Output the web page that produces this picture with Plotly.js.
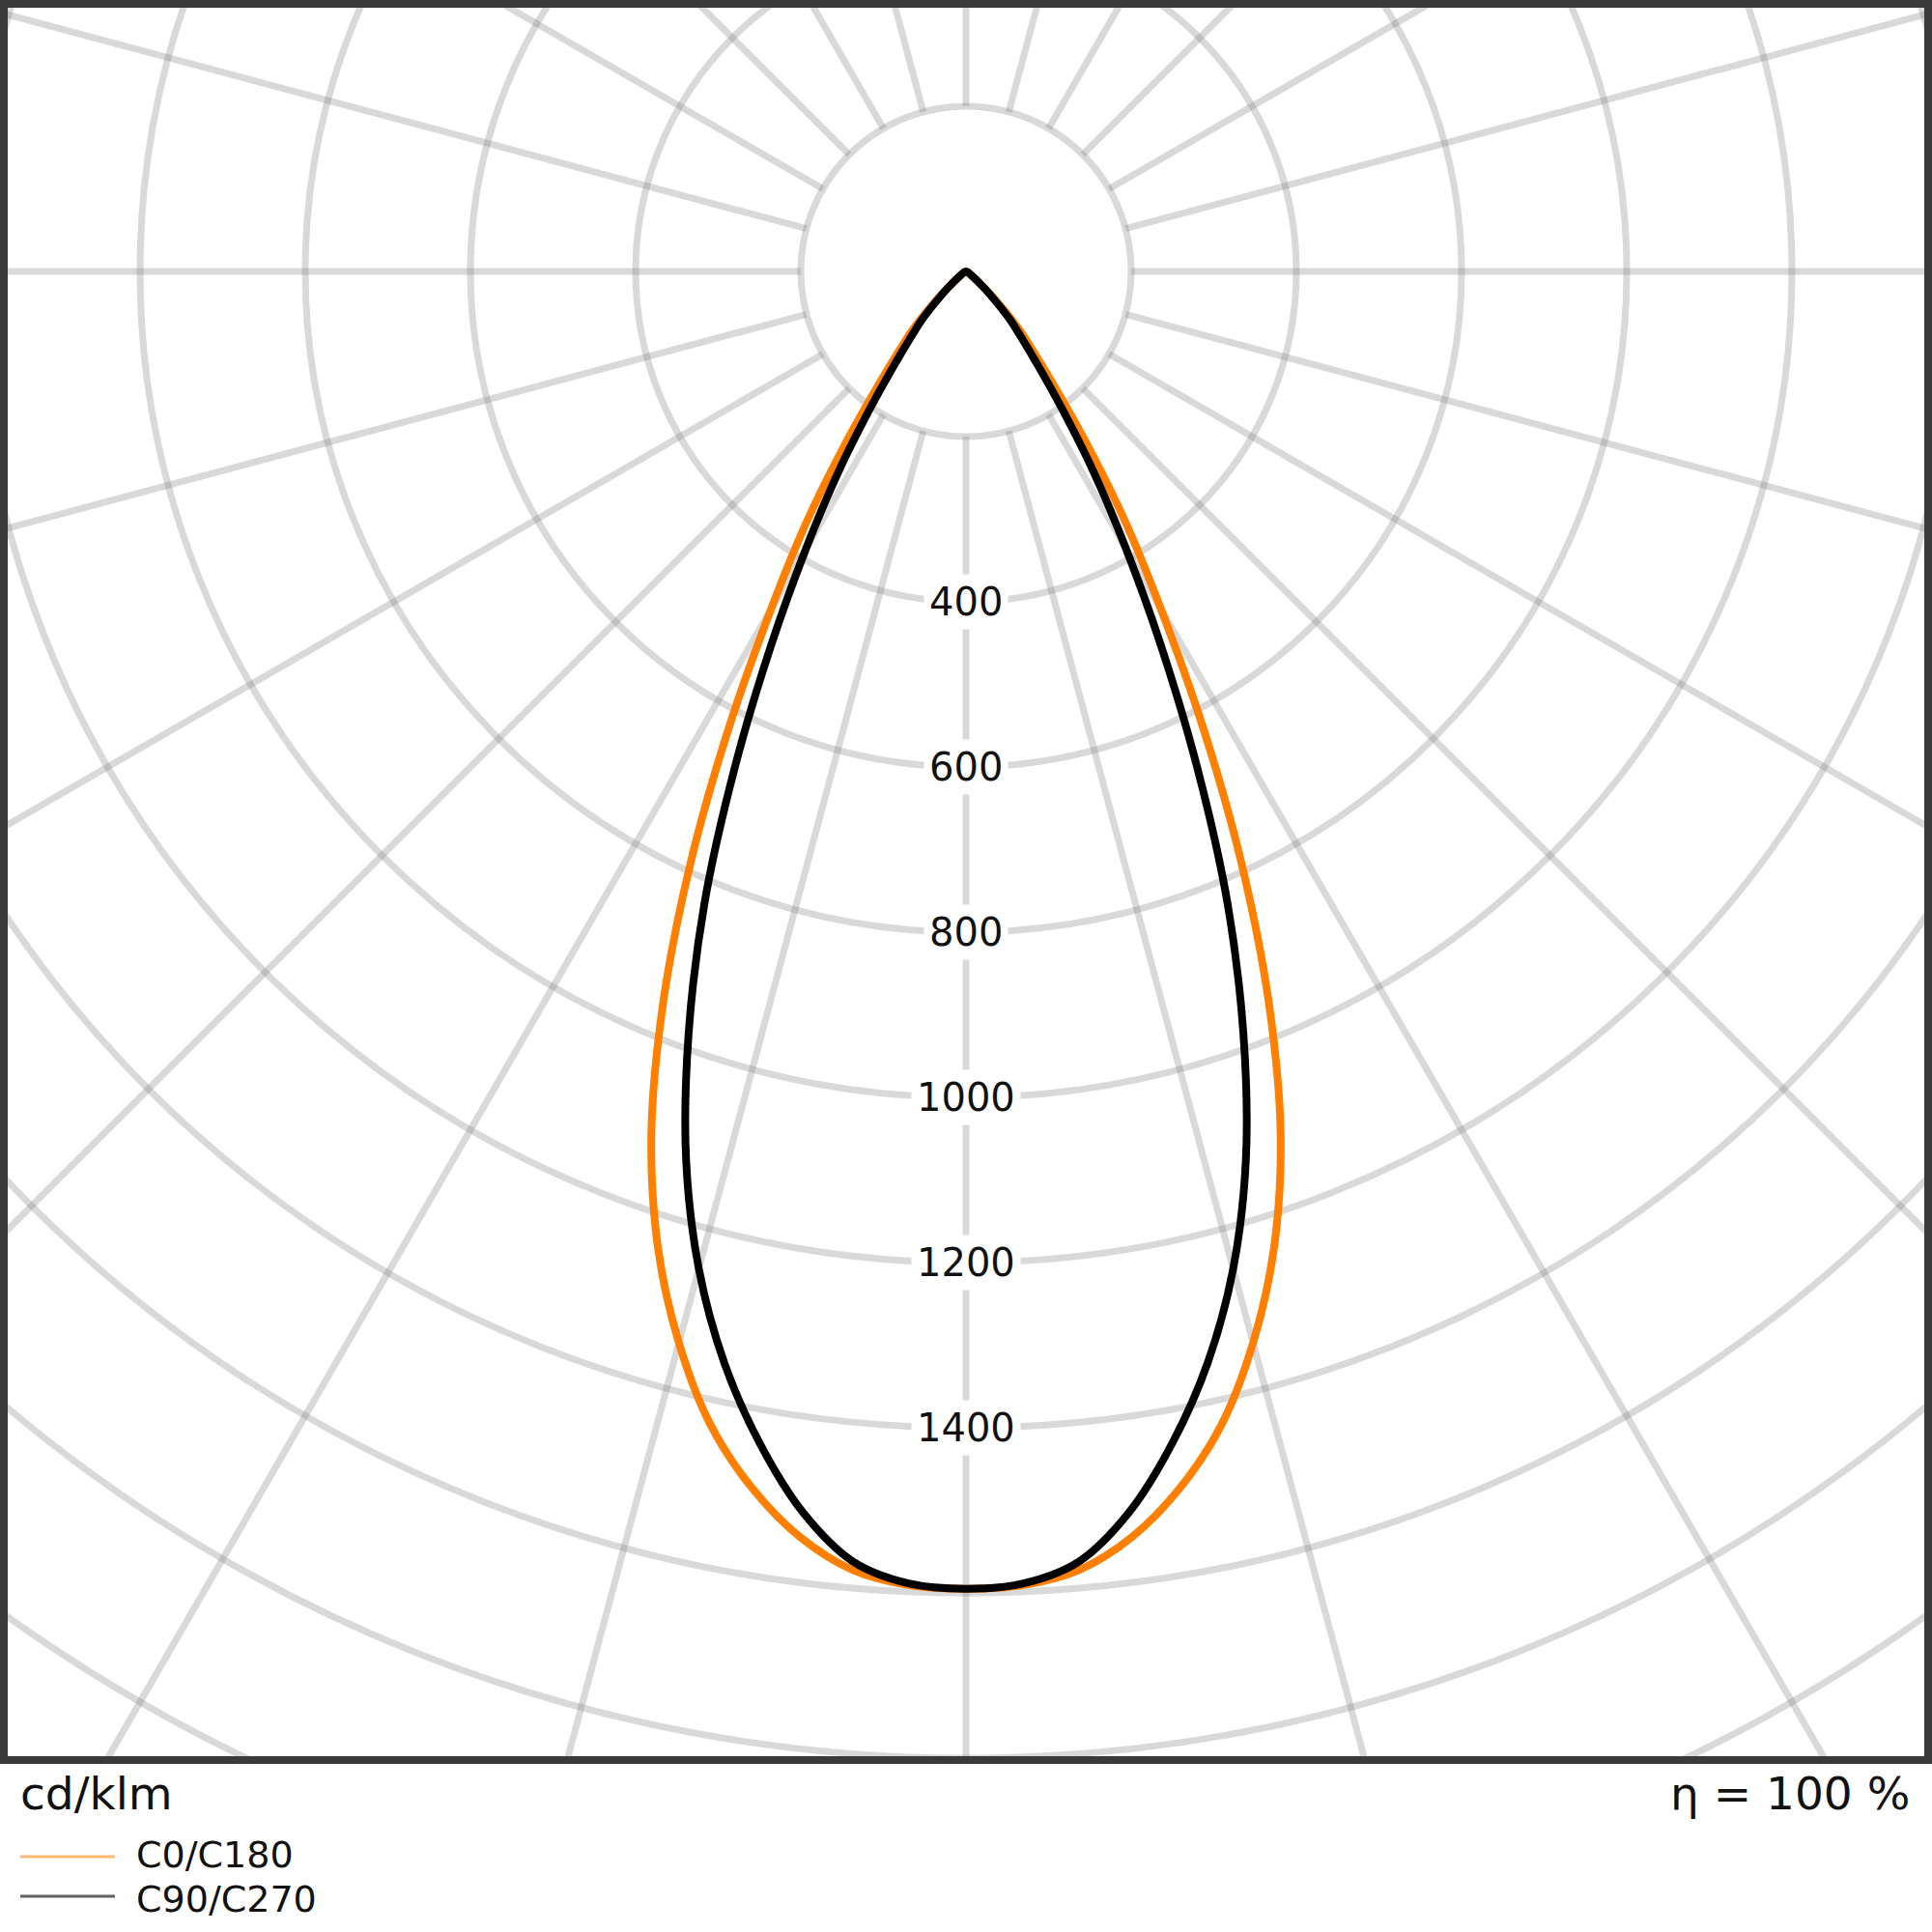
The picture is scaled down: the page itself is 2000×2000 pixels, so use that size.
<!DOCTYPE html>
<html>
<head>
<meta charset="utf-8">
<script src="https://cdn.plot.ly/plotly-3.0.1.min.js"></script>
<style>html,body{margin:0;padding:0;background:#fff;}#chart{width:2000px;height:2000px;}</style>
</head>
<body>
<div id="chart"></div>
<script>
// ---- data (gamma angle in degrees, luminous intensity in cd/klm) ----
const gammaDeg = [0,2.5,5,7.5,10,12.5,15,17.5,20,22.5,25,27.5,30,32.5,35,37.5,40,42.5,45,47.5,50,55,60,70,80,90];
const c0c180  = [1595,1592,1578,1545,1495,1430,1343,1240,1114,958,788,620,472,358,255,178,128,95,60,35,20,8,4,2,1,0];
const c90c270 = [1595,1590,1568,1515,1440,1353,1250,1127,982,827,662,512,387,287,202,142,104,78,50,31,18,8,4,2,1,0];
const seriesNames = ['C0/C180','C90/C270'];
const ringValues = [200,400,600,800,1000,1200,1400,1600,1800,2000,2200];
const ringLabels = [400,600,800,1000,1200,1400];
const unitText = 'cd/klm';
const etaText = 'η = 100 %';

// ---- geometry / style ----
const W = 2000, H = 2000;
const plotL = 4, plotR = 1996, plotT = 4, plotB = 1822;
const cx = 1000, cy = 281;          // pixel position of polar origin
const pxPerCd = 0.855;
const xr = [(plotL - cx) / pxPerCd, (plotR - cx) / pxPerCd];
const yr = [-(plotB - cy) / pxPerCd, (cy - plotT) / pxPerCd];
const gridColor = 'rgba(128,128,128,0.3)';
const gridWidth = 7;
const FONT = 'DejaVu Sans, Liberation Sans, sans-serif';
const colors = ['#ff8000', '#000000'];

function polarCurve(vals) {
  const xs = [], ys = [];
  for (let i = gammaDeg.length - 1; i >= 0; i--) {
    const g = gammaDeg[i] * Math.PI / 180;
    xs.push(-vals[i] * Math.sin(g)); ys.push(-vals[i] * Math.cos(g));
  }
  for (let i = 1; i < gammaDeg.length; i++) {
    const g = gammaDeg[i] * Math.PI / 180;
    xs.push(vals[i] * Math.sin(g)); ys.push(-vals[i] * Math.cos(g));
  }
  return {xs, ys};
}

const traces = [c0c180, c90c270].map((vals, k) => {
  const p = polarCurve(vals);
  return {
    type: 'scatter', mode: 'lines', x: p.xs, y: p.ys, name: seriesNames[k],
    line: {color: colors[k], width: 8, shape: 'spline', smoothing: 1.0},
    showlegend: false, hoverinfo: 'skip', cliponaxis: true
  };
});

const shapes = [];
ringValues.forEach(r => shapes.push({
  type: 'circle', xref: 'x', yref: 'y', x0: -r, x1: r, y0: -r, y1: r,
  line: {color: gridColor, width: gridWidth}, layer: 'below'
}));
const rIn = ringValues[0], rOut = 4000;
for (let a = 0; a < 360; a += 15) {
  const t = a * Math.PI / 180;
  shapes.push({
    type: 'line', xref: 'x', yref: 'y',
    x0: rIn * Math.sin(t), y0: -rIn * Math.cos(t),
    x1: rOut * Math.sin(t), y1: -rOut * Math.cos(t),
    line: {color: gridColor, width: gridWidth}, layer: 'below'
  });
}
shapes.push({type: 'rect', xref: 'paper', yref: 'paper', x0: 0, x1: 1, y0: 0, y1: 1,
  line: {color: '#3a3a3a', width: 8}, layer: 'above'});

const px2paperX = X => (X - plotL) / (plotR - plotL);
const px2paperY = Y => (plotB - Y) / (plotB - plotT);

const legendLineY = [1922, 1963];
const legendTextY = [1920, 1966];
const legendLineColors = ['rgba(255,128,0,0.55)', 'rgba(0,0,0,0.62)'];
legendLineY.forEach((Y, k) => shapes.push({
  type: 'line', xref: 'paper', yref: 'paper',
  x0: px2paperX(21), x1: px2paperX(119), y0: px2paperY(Y), y1: px2paperY(Y),
  line: {color: legendLineColors[k], width: 3}
}));

const annotations = ringLabels.map(v => ({
  x: 0, y: -v, xref: 'x', yref: 'y', text: String(v), showarrow: false,
  font: {family: FONT, size: 40, color: '#111'}, bgcolor: '#ffffff', borderpad: 5,
  xanchor: 'center', yanchor: 'middle'
}));
annotations.push({x: px2paperX(19), y: px2paperY(1856), xref: 'paper', yref: 'paper',
  text: unitText, showarrow: false, xanchor: 'left', yanchor: 'middle',
  font: {family: FONT, size: 47, color: '#111'}});
annotations.push({x: px2paperX(1979), y: px2paperY(1856), xref: 'paper', yref: 'paper',
  text: etaText, showarrow: false, xanchor: 'right', yanchor: 'middle',
  font: {family: FONT, size: 47, color: '#111'}});
legendTextY.forEach((Y, k) => annotations.push({
  x: px2paperX(140), y: px2paperY(Y), xref: 'paper', yref: 'paper',
  text: seriesNames[k], showarrow: false, xanchor: 'left', yanchor: 'middle',
  font: {family: FONT, size: 38, color: '#111'}, borderpad: 0
}));

const axisCommon = {showgrid: false, zeroline: false, showticklabels: false, ticks: '',
  showline: false, fixedrange: true};
const layout = {
  width: W, height: H,
  margin: {l: plotL, r: W - plotR, t: plotT, b: H - plotB, pad: 0},
  paper_bgcolor: '#ffffff', plot_bgcolor: '#ffffff',
  xaxis: Object.assign({range: xr}, axisCommon),
  yaxis: Object.assign({range: yr}, axisCommon),
  shapes, annotations, showlegend: false
};
Plotly.newPlot('chart', traces, layout, {staticPlot: true, displayModeBar: false});
</script>
</body>
</html>
